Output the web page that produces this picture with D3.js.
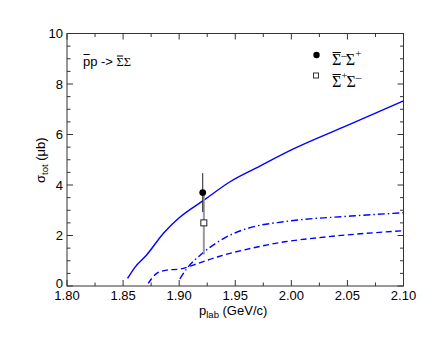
<!DOCTYPE html>
<html><head><meta charset="utf-8">
<script src="https://cdn.jsdelivr.net/npm/d3@7"></script>
<style>body{margin:0;background:#fff}svg{display:block}text{white-space:pre}</style>
</head><body>
<svg id="c" width="436" height="337"></svg>
<script>
// ---- data ----
const xTicks = [1.80, 1.85, 1.90, 1.95, 2.00, 2.05, 2.10];
const yTicks = [0, 2, 4, 6, 8, 10];
const solidX = [1.854, 1.8605, 1.871, 1.886, 1.900, 1.923, 1.945, 1.972, 2.000, 2.050, 2.100];
const solidY = [0.30, 0.74, 1.23, 2.09, 2.70, 3.43, 4.12, 4.75, 5.39, 6.36, 7.33];
const dashDotX = [1.9006, 1.907, 1.918, 1.935, 1.949, 1.964, 1.994, 2.053, 2.100];
const dashDotY = [0.28, 0.70, 1.19, 1.76, 2.09, 2.32, 2.55, 2.77, 2.90];
const dashX = [1.8724, 1.880, 1.889, 1.9006, 1.9125, 1.9347, 1.964, 1.994, 2.0235, 2.100];
const dashY = [0.10, 0.50, 0.63, 0.67, 0.83, 1.16, 1.49, 1.75, 1.91, 2.19];
const ptFilled = {x: 1.921, y: 3.70, lo: 2.93, hi: 4.47};
const ptOpen = {x: 1.922, y: 2.50, lo: 1.25, hi: 3.75};

const svg = d3.select("#c");
const m = {l: 67, r: 403.5, t: 33.5, b: 286};
const x = d3.scaleLinear().domain([1.80, 2.10]).range([m.l, m.r]);
const y = d3.scaleLinear().domain([0, 10]).range([m.b, m.t]);
const axisCol = "#333";

// frame
svg.append("rect").attr("x", m.l).attr("y", m.t).attr("width", m.r - m.l).attr("height", m.b - m.t)
  .attr("fill", "none").attr("stroke", axisCol).attr("stroke-width", 1);

// ticks (inward, all four sides)
const xMinor = d3.range(0, 13).map(i => 1.80 + i * 0.025);
const yMinor = d3.range(0, 21).map(i => i * 0.5);
const tg = svg.append("g").attr("stroke", axisCol).attr("stroke-width", 1);
xMinor.forEach((v, i) => {
  const L = i % 2 === 0 ? 6 : 3.5;
  const px = x(v);
  tg.append("line").attr("x1", px).attr("x2", px).attr("y1", m.b).attr("y2", m.b - L);
  tg.append("line").attr("x1", px).attr("x2", px).attr("y1", m.t).attr("y2", m.t + L);
});
yMinor.forEach((v, i) => {
  const L = i % 4 === 0 ? 6 : 3.5;
  const py = y(v);
  tg.append("line").attr("x1", m.l).attr("x2", m.l + L).attr("y1", py).attr("y2", py);
  tg.append("line").attr("x1", m.r).attr("x2", m.r - L).attr("y1", py).attr("y2", py);
});

// tick labels
const font = "'Liberation Sans', Arial, sans-serif";
svg.append("g").selectAll("text").data(xTicks).join("text")
  .attr("x", d => x(d)).attr("y", 300).attr("text-anchor", "middle")
  .attr("font-family", font).attr("font-size", 13).attr("fill", "#000")
  .text(d => d.toFixed(2));
svg.append("g").selectAll("text").data(yTicks).join("text")
  .attr("x", 63).attr("y", d => y(d) + (d === 0 ? 1.5 : 4.6)).attr("text-anchor", "end")
  .attr("font-family", font).attr("font-size", 13).attr("fill", "#000")
  .text(d => d);

// axis titles
const xt = svg.append("text").attr("x", 199).attr("y", 315).attr("font-family", font).attr("font-size", 13);
xt.append("tspan").text("p");
xt.append("tspan").attr("font-size", 9.5).attr("dy", 3).text("lab");
xt.append("tspan").attr("dy", -3).text(" (GeV/c)");

const yt = svg.append("text").attr("transform", "translate(45,183) rotate(-90)")
  .attr("font-family", font).attr("font-size", 13);
yt.append("tspan").text("σ");
yt.append("tspan").attr("font-size", 9.5).attr("dy", 3).text("tot");
yt.append("tspan").attr("dy", -3).text(" (μb)");

// curves
const line = d3.line().x(d => x(d[0])).y(d => y(d[1])).curve(d3.curveMonotoneX);
const cg = svg.append("g").attr("fill", "none").attr("stroke", "#0000ff").attr("stroke-width", 1.4);
cg.append("path").attr("d", line(d3.zip(solidX, solidY)));
cg.append("path").attr("d", line(d3.zip(dashDotX, dashDotY))).attr("stroke-dasharray", "7,3,1.5,3");
cg.append("path").attr("d", line(d3.zip(dashX, dashY))).attr("stroke-dasharray", "6,3.5");

// data points with error bars
svg.append("line").attr("x1", x(ptOpen.x)).attr("x2", x(ptOpen.x))
  .attr("y1", y(ptOpen.lo)).attr("y2", y(ptOpen.hi)).attr("stroke", "#999").attr("stroke-width", 2);
svg.append("line").attr("x1", x(ptFilled.x)).attr("x2", x(ptFilled.x))
  .attr("y1", y(ptFilled.lo)).attr("y2", y(ptFilled.hi)).attr("stroke", "#222").attr("stroke-width", 1);
svg.append("circle").attr("cx", x(ptFilled.x)).attr("cy", y(ptFilled.y)).attr("r", 3.4).attr("fill", "#000");
svg.append("rect").attr("x", x(ptOpen.x) - 3).attr("y", y(ptOpen.y) - 3).attr("width", 6).attr("height", 6)
  .attr("fill", "#fff").attr("stroke", "#222").attr("stroke-width", 1);

// rich text helper
function rich(x0, yb, parts) {
  let cx = x0;
  parts.forEach(p => {
    const t = svg.append("text").attr("x", cx).attr("y", yb + (p.dy || 0))
      .attr("font-family", p.font).attr("font-size", p.size).attr("fill", "#000").text(p.t);
    const w = t.node().getComputedTextLength();
    if (p.bar) {
      svg.append("line").attr("x1", cx + 0.5).attr("x2", cx + w - 0.5)
        .attr("y1", yb + p.bar).attr("y2", yb + p.bar).attr("stroke", "#000").attr("stroke-width", 1);
    }
    cx += w + (p.gap || 0);
  });
}
const serif = "'Liberation Serif', 'Times New Roman', serif";

// annotation
rich(83, 66, [
  {t: "p", font: font, size: 13, bar: -11.5},
  {t: "p", font: font, size: 13, gap: 3.5},
  {t: "->", font: font, size: 13, gap: 3.5},
  {t: "Σ", font: serif, size: 12.5, bar: -10},
  {t: "Σ", font: serif, size: 12.5}
]);

// legend
svg.append("circle").attr("cx", 316.5).attr("cy", 55).attr("r", 3.2).attr("fill", "#000");
svg.append("rect").attr("x", 313.5).attr("y", 73).attr("width", 5).attr("height", 5)
  .attr("fill", "#fff").attr("stroke", "#333").attr("stroke-width", 1);
rich(332, 65, [
  {t: "Σ", font: serif, size: 16, bar: -12.5},
  {t: "–", font: serif, size: 11, dy: -6.5, gap: -1},
  {t: "Σ", font: serif, size: 16},
  {t: "+", font: serif, size: 11, dy: -8}
]);
rich(332, 87, [
  {t: "Σ", font: serif, size: 16, bar: -12.5},
  {t: "+", font: serif, size: 11, dy: -8, gap: -1},
  {t: "Σ", font: serif, size: 16},
  {t: "–", font: serif, size: 11, dy: -6.5}
]);
</script>
</body></html>
